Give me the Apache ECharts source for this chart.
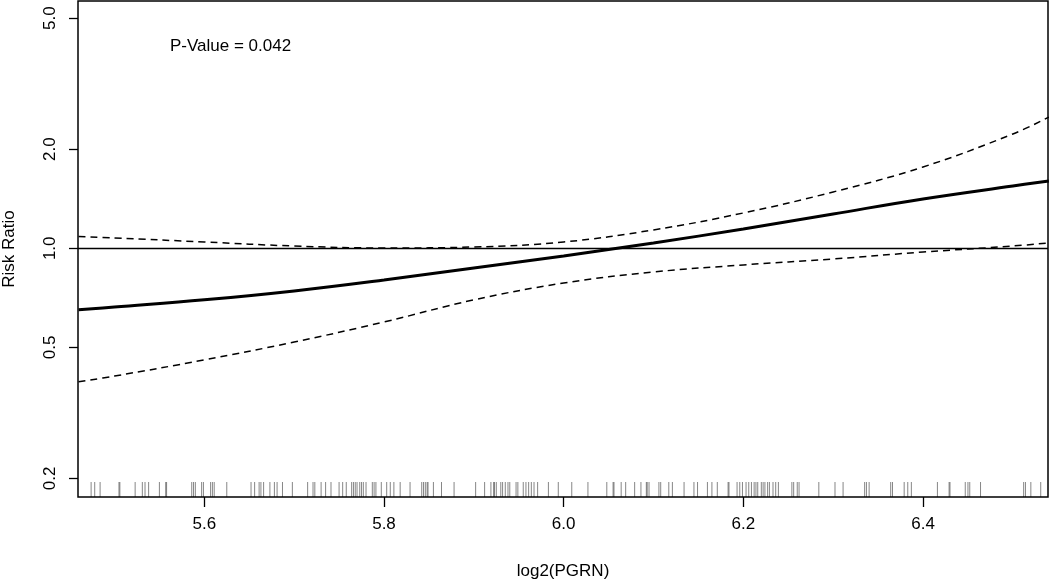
<!DOCTYPE html>
<html>
<head>
<meta charset="utf-8">
<title>Risk Ratio vs log2(PGRN)</title>
<script src="https://cdn.jsdelivr.net/npm/echarts@6/dist/echarts.min.js"></script>
<style>
  html, body { margin: 0; padding: 0; background: #fff; }
  #chart { width: 1050px; height: 580px; }
</style>
</head>
<body>
<div id="chart"></div>
<script>
// curve values (risk ratio scale)
var xGrid = [5.46, 5.5, 5.6, 5.7, 5.8, 5.9, 6.0, 6.1, 6.2, 6.3, 6.4, 6.5, 6.54];
var riskRatio = [0.650, 0.663, 0.697, 0.742, 0.801, 0.871, 0.948, 1.038, 1.144, 1.271, 1.412, 1.546, 1.601];
var upperCI = [1.086, 1.075, 1.045, 1.016, 1.002, 1.009, 1.045, 1.137, 1.280, 1.483, 1.766, 2.225, 2.503];
var lowerCI = [0.393, 0.409, 0.458, 0.519, 0.597, 0.697, 0.784, 0.847, 0.890, 0.928, 0.974, 1.016, 1.038];

// observed log2(PGRN) values shown as a rug
var rugValues = [
  5.474, 5.478, 5.484, 5.505, 5.506, 5.523, 5.531, 5.534, 5.538, 5.550, 5.557, 5.558,
  5.586, 5.588, 5.590, 5.597, 5.599, 5.607, 5.609, 5.611, 5.625,
  5.652, 5.656, 5.661, 5.663, 5.666, 5.673, 5.678, 5.681, 5.687, 5.698, 5.715, 5.721,
  5.723, 5.730, 5.735, 5.741, 5.750, 5.754, 5.758, 5.764, 5.766, 5.768, 5.770, 5.773,
  5.775, 5.777, 5.780, 5.787, 5.789, 5.791, 5.797, 5.803, 5.807, 5.811, 5.818,
  5.829, 5.842, 5.844, 5.846, 5.848, 5.849, 5.855, 5.864, 5.878, 5.902, 5.912, 5.919,
  5.922, 5.923, 5.925, 5.930, 5.932, 5.935, 5.938, 5.940, 5.947, 5.949, 5.955, 5.958,
  5.961, 5.964, 5.967, 5.971, 5.983, 5.994,
  6.009, 6.027, 6.048, 6.055, 6.056, 6.064, 6.069, 6.079, 6.086, 6.092, 6.093, 6.095,
  6.106, 6.108, 6.117, 6.121, 6.134, 6.145, 6.149, 6.160, 6.165, 6.171, 6.183, 6.184,
  6.193, 6.196, 6.199, 6.203, 6.206, 6.209, 6.212, 6.214, 6.216, 6.220, 6.222, 6.224,
  6.227, 6.229, 6.233, 6.236, 6.239, 6.254, 6.256, 6.260, 6.262, 6.284, 6.302, 6.311,
  6.335, 6.337, 6.340, 6.364, 6.366,
  6.379, 6.383, 6.387, 6.416, 6.429, 6.430, 6.447, 6.450, 6.452, 6.464, 6.512, 6.514,
  6.520, 6.531
];

var xTicks = [5.6, 5.8, 6.0, 6.2, 6.4];
var yTicks = [0.2, 0.5, 1.0, 2.0, 5.0];
var xRange = [5.4594, 6.5391];
var yRange = [0.1755, 5.64];
var pText = 'P-Value = 0.042';

var FONT = '"Liberation Sans", Arial, Helvetica, sans-serif';
var log10 = function (v) { return Math.log(v) / Math.LN10; };

function toSeries(ys) {
  return xGrid.map(function (x, i) { return [x, log10(ys[i])]; });
}

var yMin = log10(yRange[0]);
var yMax = log10(yRange[1]);

var chart = echarts.init(document.getElementById('chart'), null, { renderer: 'canvas' });

chart.setOption({
  animation: false,
  backgroundColor: '#fff',
  textStyle: { fontFamily: FONT },
  grid: {
    left: 78, right: 2, top: 1, bottom: 83,
    outerBoundsMode: 'none',
    containLabel: false,
    show: true,
    borderColor: '#000',
    borderWidth: 1.5,
    backgroundColor: 'transparent'
  },
  xAxis: {
    type: 'value',
    min: xRange[0],
    max: xRange[1],
    name: 'log2(PGRN)',
    nameLocation: 'middle',
    nameGap: 66,
    nameTextStyle: { color: '#000', fontSize: 17, fontFamily: FONT },
    axisLine: { show: false, onZero: false },
    splitLine: { show: false },
    axisTick: {
      show: true, inside: false, length: 10,
      customValues: xTicks,
      lineStyle: { color: '#000', width: 1.3 }
    },
    axisLabel: {
      customValues: xTicks,
      margin: 19,
      color: '#000',
      fontSize: 17,
      fontFamily: FONT,
      formatter: function (v) { return v.toFixed(1); }
    }
  },
  yAxis: {
    type: 'value',
    min: yMin,
    max: yMax,
    name: 'Risk Ratio',
    nameLocation: 'middle',
    nameGap: 60,
    nameTextStyle: { color: '#000', fontSize: 17, fontFamily: FONT },
    axisLine: { show: false, onZero: false },
    splitLine: { show: false },
    axisTick: {
      show: true, inside: false, length: 9,
      customValues: yTicks.map(log10),
      lineStyle: { color: '#000', width: 1.3 }
    },
    axisLabel: {
      customValues: yTicks.map(log10),
      rotate: 90,
      margin: 19,
      color: '#000',
      fontSize: 17,
      fontFamily: FONT,
      formatter: function (v) { return Math.pow(10, v).toFixed(1); }
    }
  },
  graphic: [{
    type: 'text',
    left: 170,
    top: 38,
    style: { text: pText, fill: '#000', font: '17px ' + FONT }
  }],
  series: [
    {
      name: 'rug',
      type: 'scatter',
      data: rugValues.map(function (v) { return [v, yMin]; }),
      symbol: 'rect',
      symbolSize: [1, 15],
      symbolOffset: [0, -7.5],
      itemStyle: { color: 'rgba(0,0,0,0.6)' },
      silent: true,
      clip: false
    },
    {
      name: 'upper',
      type: 'line',
      data: toSeries(upperCI),
      smooth: 0.4,
      symbol: 'none',
      lineStyle: { color: '#000', width: 1.5, type: [7, 5] },
      silent: true
    },
    {
      name: 'lower',
      type: 'line',
      data: toSeries(lowerCI),
      smooth: 0.4,
      symbol: 'none',
      lineStyle: { color: '#000', width: 1.5, type: [7, 5] },
      silent: true
    },
    {
      name: 'risk ratio',
      type: 'line',
      data: toSeries(riskRatio),
      smooth: 0.4,
      symbol: 'none',
      lineStyle: { color: '#000', width: 3 },
      silent: true,
      markLine: {
        silent: true,
        symbol: 'none',
        label: { show: false },
        lineStyle: { color: '#000', width: 1.3, type: 'solid' },
        data: [{ yAxis: 0 }]
      }
    }
  ]
});
</script>
</body>
</html>
